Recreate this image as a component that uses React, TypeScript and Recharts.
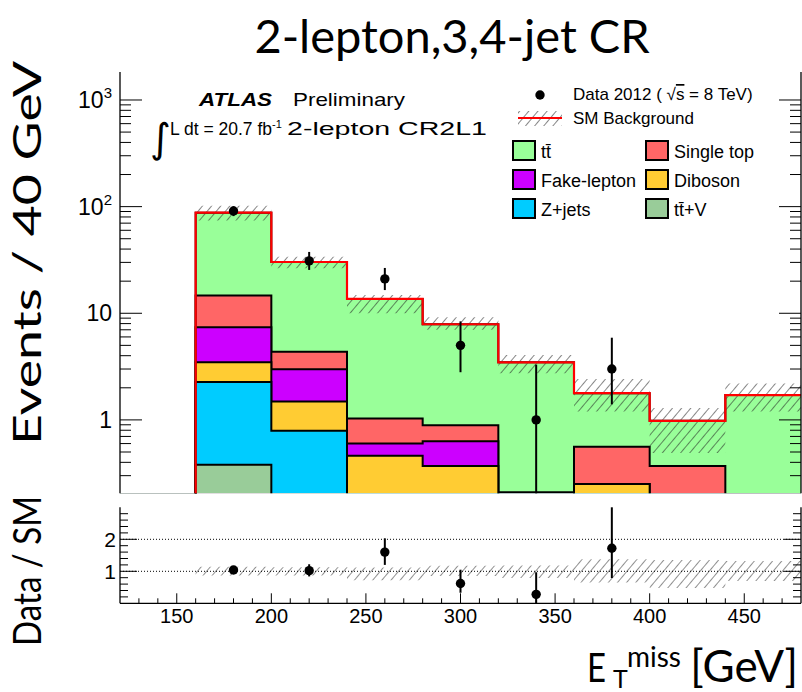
import React from 'react';
import { ComposedChart, Area, Line, Scatter, XAxis, YAxis, ErrorBar, ReferenceLine } from 'recharts';

// ---------- data ----------
const binLow = [120, 160, 200, 240, 280, 320, 360, 400, 440];
const xEnd = 480;

// per-bin component yields (bin 120-160 is empty; tiny values = below visible range)
const ttV = [0.002, 0.38, 0.01, 0.01, 0.01, 0.01, 0.01, 0.01, 0.01];
const zJets = [0.002, 1.89, 0.78, 0.05, 0.03, 0.02, 0.02, 0.01, 0.01];
const diboson = [0.002, 1.2, 0.7, 0.4, 0.33, 0.1, 0.22, 0.03, 0.01];
const fakeLepton = [0.002, 3.92, 1.5, 0.14, 0.26, 0.03, 0.001, 0.02, 0.01];
const singleTop = [0.002, 7.31, 1.37, 0.43, 0.26, 0.05, 0.31, 0.3, 0.02];
const ttbar = [0.002, 73.0, 25.9, 12.6, 7.0, 3.26, 1.22, 0.61, 1.65];

const bandLo = [null, 74, 26.4, 10.0, 7.0, 2.74, 1.2, 0.49, 1.2];
const bandHi = [null, 102, 33.9, 14.8, 9.2, 4.06, 2.42, 1.29, 2.2];
const ratioBandLo = [null, 0.87, 0.87, 0.72, 0.85, 0.79, 0.65, 0.48, 0.7];
const ratioBandHi = [null, 1.14, 1.13, 1.12, 1.17, 1.18, 1.38, 1.35, 1.32];

const dataX = [180, 220, 260, 300, 340, 380];
const dataY = [91, 31, 21, 5, 1, 3];
const dataErrLo = [9.5, 5.5, 4.5, 2.2, 0.795, 1.6];
const dataErrHi = [10.0, 6.6, 5.6, 3.4, 2.3, 2.9];
const ratioY = [1.04, 1.02, 1.6, 0.62, 0.28, 1.72];
const ratioErrLo = [0.1, 0.18, 0.4, 0.29, 0.28, 0.93];
const ratioErrHi = [0.11, 0.2, 0.43, 0.43, 0.69, 1.28];

const xMajorTicks = [150, 200, 250, 300, 350, 400, 450];
const xAllTicks = [130, 140, 150, 160, 170, 180, 190, 200, 210, 220, 230, 240, 250, 260, 270, 280, 290, 300, 310, 320, 330, 340, 350, 360, 370, 380, 390, 400, 410, 420, 430, 440, 450, 460, 470];
const yMainTicks = [0.3, 0.4, 0.5, 0.6, 0.7, 0.8, 0.9, 1, 2, 3, 4, 5, 6, 7, 8, 9, 10, 20, 30, 40, 50, 60, 70, 80, 90, 100, 200, 300, 400, 500, 600, 700, 800, 900, 1000];
const yMainMajor = [1, 10, 100, 1000];
const yRatioTicks = [0.2, 0.4, 0.6, 0.8, 1, 1.2, 1.4, 1.6, 1.8, 2, 2.2, 2.4, 2.6, 2.8];
const yRatioMajor = [1, 2];

const COLORS = {
  ttbar: '#99ff99',
  singleTop: '#ff6666',
  fake: '#cc00ff',
  diboson: '#ffcc33',
  zjets: '#00ccff',
  ttV: '#99cc99',
};

const ROOT_FONT = "'Liberation Sans', Arial, sans-serif";
const PPT_FONT = "Lato, 'Open Sans', sans-serif";

// ---------- derived tables ----------
const rows = [...binLow, xEnd].map((x, i) => {
  const b = Math.min(i, binLow.length - 1);
  const c1 = ttV[b];
  const c2 = c1 + zJets[b];
  const c3 = c2 + diboson[b];
  const c4 = c3 + fakeLepton[b];
  const c5 = c4 + singleTop[b];
  const c6 = c5 + ttbar[b];
  return {
    x,
    cTtV: c1,
    cZ: c2,
    cDib: c3,
    cFake: c4,
    cSt: c5,
    total: c6,
    band: bandLo[b] == null ? null : [bandLo[b], bandHi[b]],
    rband: ratioBandLo[b] == null ? null : [ratioBandLo[b], ratioBandHi[b]],
  };
});

const dataPts = dataX.map((x, i) => ({ x, y: dataY[i], err: [dataErrLo[i], dataErrHi[i]] }));
const ratioPts = dataX.map((x, i) => ({ x, y: ratioY[i], err: [ratioErrLo[i], ratioErrHi[i]] }));

// ---------- ticks ----------
const near = (a: number, list: number[]) => list.some((v) => Math.abs(v - a) < 1e-6);

const xTick = (dir: number, majorLen: number, minorLen: number, withLabel: boolean) => (p: any) => {
  const v = p.payload.value;
  const major = near(v, xMajorTicks);
  return (
    <g>
      <line x1={p.x} x2={p.x} y1={p.y} y2={p.y + dir * (major ? majorLen : minorLen)} stroke="#000" strokeWidth={1} />
      {withLabel && major ? (
        <text x={p.x} y={p.y + 20} textAnchor="middle" fontFamily={ROOT_FONT} fontSize={20} fill="#000">
          {v}
        </text>
      ) : null}
    </g>
  );
};

const mainYLabel = (v: number) => {
  if (Math.abs(v - 1000) < 1e-6)
    return (
      <>
        10<tspan dy={-10} fontSize={15}>3</tspan>
      </>
    );
  if (Math.abs(v - 100) < 1e-6)
    return (
      <>
        10<tspan dy={-10} fontSize={15}>2</tspan>
      </>
    );
  return <>{String(v)}</>;
};

const yTick = (
  dir: number,
  majors: number[],
  majorLen: number,
  minorLen: number,
  label: null | 'main' | 'ratio'
) => (p: any) => {
  const v = p.payload.value;
  const major = near(v, majors);
  return (
    <g>
      <line x1={p.x} x2={p.x + dir * (major ? majorLen : minorLen)} y1={p.y} y2={p.y} stroke="#000" strokeWidth={1} />
      {label === 'main' && major ? (
        <text x={p.x - 8} y={p.y + 8} textAnchor="end" fontFamily={ROOT_FONT} fontSize={23} fill="#000">
          {mainYLabel(v)}
        </text>
      ) : null}
      {label === 'ratio' && major ? (
        <text x={p.x - 4} y={p.y + 8} textAnchor="end" fontFamily={ROOT_FONT} fontSize={21} fill="#000">
          {String(v)}
        </text>
      ) : null}
    </g>
  );
};

const dotShape = (p: any) => <circle cx={p.cx} cy={p.cy} r={4.7} fill="#000" />;

const MAIN_DOMAIN: [number, number] = [0.205, 1830];

function MainPanel() {
  return (
    <ComposedChart width={802} height={500} data={rows} margin={{ top: 72, right: 0, bottom: 6.7, left: 0 }}>
      <Area type="stepAfter" dataKey="total" fill={COLORS.ttbar} fillOpacity={1} stroke="#000" strokeWidth={2} isAnimationActive={false} dot={false} activeDot={false} />
      <Area type="stepAfter" dataKey="cSt" fill={COLORS.singleTop} fillOpacity={1} stroke="#000" strokeWidth={2} isAnimationActive={false} dot={false} activeDot={false} />
      <Area type="stepAfter" dataKey="cFake" fill={COLORS.fake} fillOpacity={1} stroke="#000" strokeWidth={2} isAnimationActive={false} dot={false} activeDot={false} />
      <Area type="stepAfter" dataKey="cDib" fill={COLORS.diboson} fillOpacity={1} stroke="#000" strokeWidth={2} isAnimationActive={false} dot={false} activeDot={false} />
      <Area type="stepAfter" dataKey="cZ" fill={COLORS.zjets} fillOpacity={1} stroke="#000" strokeWidth={2} isAnimationActive={false} dot={false} activeDot={false} />
      <Area type="stepAfter" dataKey="cTtV" fill={COLORS.ttV} fillOpacity={1} stroke="#000" strokeWidth={2} isAnimationActive={false} dot={false} activeDot={false} />
      <Area type="stepAfter" dataKey="band" fill="url(#hatchMain)" fillOpacity={1} stroke="none" isAnimationActive={false} dot={false} activeDot={false} />
      <Line type="stepAfter" dataKey="total" stroke="#ff0000" strokeWidth={2.2} dot={false} activeDot={false} isAnimationActive={false} />
      <Scatter data={dataPts} dataKey="y" fill="#000" shape={dotShape} isAnimationActive={false}>
        <ErrorBar dataKey="err" direction="y" width={0} stroke="#000" strokeWidth={2} />
      </Scatter>
      <XAxis
        dataKey="x"
        type="number"
        domain={[120, 480]}
        allowDataOverflow
        ticks={xAllTicks}
        interval={0}
        height={0}
        tickSize={0}
        tickMargin={0}
        axisLine={{ stroke: '#000', strokeWidth: 1.3 }}
        tickLine={false}
        tick={xTick(-1, 11, 6, false)}
      />
      <XAxis
        xAxisId="top"
        orientation="top"
        dataKey="x"
        type="number"
        domain={[120, 480]}
        allowDataOverflow
        ticks={xAllTicks}
        interval={0}
        height={0}
        tickSize={0}
        tickMargin={0}
        axisLine={{ stroke: '#000', strokeWidth: 1.3 }}
        tickLine={false}
        tick={xTick(1, 11, 6, false)}
      />
      <YAxis
        scale="log"
        type="number"
        domain={MAIN_DOMAIN}
        allowDataOverflow
        ticks={yMainTicks}
        interval={0}
        width={120}
        tickSize={0}
        tickMargin={0}
        axisLine={{ stroke: '#000', strokeWidth: 1.3 }}
        tickLine={false}
        tick={yTick(1, yMainMajor, 22, 11, 'main')}
      />
      <YAxis
        yAxisId="right"
        orientation="right"
        scale="log"
        type="number"
        domain={MAIN_DOMAIN}
        allowDataOverflow
        ticks={yMainTicks}
        interval={0}
        width={1}
        tickSize={0}
        tickMargin={0}
        axisLine={{ stroke: '#000', strokeWidth: 1.3 }}
        tickLine={false}
        tick={yTick(-1, yMainMajor, 22, 11, null)}
      />
    </ComposedChart>
  );
}

function RatioPanel() {
  return (
    <ComposedChart width={802} height={150} data={rows} margin={{ top: 17.3, right: 0, bottom: 0, left: 0 }}>
      <ReferenceLine y={1} stroke="#000" strokeWidth={1} strokeDasharray="1 2" />
      <ReferenceLine y={2} stroke="#000" strokeWidth={1} strokeDasharray="1 2" />
      <Area type="stepAfter" dataKey="rband" fill="url(#hatchRatio)" fillOpacity={1} stroke="none" isAnimationActive={false} dot={false} activeDot={false} />
      <Scatter data={ratioPts} dataKey="y" fill="#000" shape={dotShape} isAnimationActive={false}>
        <ErrorBar dataKey="err" direction="y" width={0} stroke="#000" strokeWidth={2} />
      </Scatter>
      <XAxis
        dataKey="x"
        type="number"
        domain={[120, 480]}
        allowDataOverflow
        ticks={xAllTicks}
        interval={0}
        height={36.7}
        tickSize={0}
        tickMargin={0}
        axisLine={{ stroke: '#000', strokeWidth: 1.3 }}
        tickLine={false}
        tick={xTick(-1, 10, 5, true)}
      />
      <XAxis
        xAxisId="top"
        orientation="top"
        dataKey="x"
        type="number"
        domain={[120, 480]}
        allowDataOverflow
        ticks={xAllTicks}
        interval={0}
        height={0}
        tickSize={0}
        tickMargin={0}
        axisLine={{ stroke: '#000', strokeWidth: 1.3 }}
        tickLine={false}
        tick={xTick(1, 6, 4, false)}
      />
      <YAxis
        type="number"
        domain={[0, 3]}
        allowDataOverflow
        ticks={yRatioTicks}
        interval={0}
        width={120}
        tickSize={0}
        tickMargin={0}
        axisLine={{ stroke: '#000', strokeWidth: 1.3 }}
        tickLine={false}
        tick={yTick(1, yRatioMajor, 17, 8, 'ratio')}
      />
      <YAxis
        yAxisId="right"
        orientation="right"
        type="number"
        domain={[0, 3]}
        allowDataOverflow
        ticks={yRatioTicks}
        interval={0}
        width={1}
        tickSize={0}
        tickMargin={0}
        axisLine={{ stroke: '#000', strokeWidth: 1.3 }}
        tickLine={false}
        tick={yTick(-1, yRatioMajor, 17, 8, null)}
      />
    </ComposedChart>
  );
}

function Overlay() {
  const legendBox = (x: number, y: number, color: string) => (
    <rect x={x} y={y} width={22} height={19} fill={color} stroke="#000" strokeWidth={2} />
  );
  return (
    <svg width={802} height={692} style={{ position: 'absolute', left: 0, top: 0, pointerEvents: 'none' }}>
      <defs>
        <pattern id="hatchMain" patternUnits="userSpaceOnUse" width={7} height={7} patternTransform="rotate(40)">
          <line x1={0} y1={0} x2={0} y2={7} stroke="#222" strokeWidth={1.1} />
        </pattern>
        <pattern id="hatchRatio" patternUnits="userSpaceOnUse" width={7} height={7} patternTransform="rotate(40)">
          <line x1={0} y1={0} x2={0} y2={7} stroke="#333" strokeWidth={1.1} />
        </pattern>
      </defs>

      {/* title */}
      <text x={452} y={53} textAnchor="middle" fontFamily={PPT_FONT} fontSize={47} fill="#000">
        2-lepton,3,4-jet CR
      </text>

      {/* axis titles */}
      <text transform="translate(41,253) rotate(-90)" textAnchor="middle" fontFamily={PPT_FONT} fontSize={39} textLength={384} lengthAdjust="spacingAndGlyphs" fill="#000">
        Events / 40 GeV
      </text>
      <text transform="translate(41,571) rotate(-90)" textAnchor="middle" fontFamily={PPT_FONT} fontSize={38} textLength={150} lengthAdjust="spacingAndGlyphs" fill="#000">
        Data / SM
      </text>
      <text x={587} y={682} fontFamily={PPT_FONT} fontSize={40} textLength={19} lengthAdjust="spacingAndGlyphs" fill="#000">E</text>
      <text x={613} y={688} fontFamily={PPT_FONT} fontSize={25} fill="#000">T</text>
      <text x={627} y={667} fontFamily={PPT_FONT} fontSize={28} fill="#000">miss</text>
      <text x={798} y={682} textAnchor="end" fontFamily={PPT_FONT} fontSize={44} fill="#000">[GeV]</text>

      {/* ATLAS label */}
      <text x={199} y={106} fontFamily={ROOT_FONT} fontSize={19} fontWeight="bold" fontStyle="italic" textLength={73} lengthAdjust="spacingAndGlyphs" fill="#000">ATLAS</text>
      <text x={293} y={106} fontFamily={ROOT_FONT} fontSize={19} textLength={112} lengthAdjust="spacingAndGlyphs" fill="#000">Preliminary</text>
      <text x={150} y={152} fontFamily="'DejaVu Sans', sans-serif" fontSize={40} fill="#000">∫</text>
      <text x={170} y={135} fontFamily={ROOT_FONT} fontSize={17.5} fill="#000">
        L dt = 20.7 fb<tspan dy={-7} fontSize={11}>-1</tspan>
      </text>
      <text x={287} y={135} fontFamily={ROOT_FONT} fontSize={18.5} textLength={200} lengthAdjust="spacingAndGlyphs" fill="#000">2-lepton CR2L1</text>

      {/* legend */}
      <circle cx={540} cy={95} r={4.7} fill="#000" />
      <text x={573} y={100} fontFamily={ROOT_FONT} fontSize={17} fill="#000">
        Data 2012 ( √<tspan style={{ textDecoration: 'overline' }}>s</tspan> = 8 TeV)
      </text>
      <rect x={518} y={111} width={44} height={15} fill="url(#hatchMain)" />
      <line x1={518} x2={562} y1={118} y2={118} stroke="#ff0000" strokeWidth={2} />
      <text x={573} y={124} fontFamily={ROOT_FONT} fontSize={17} fill="#000">SM Background</text>

      {legendBox(513, 141, COLORS.ttbar)}
      <text x={541} y={158} fontFamily={ROOT_FONT} fontSize={18} fill="#000">t{'t\u0304'}</text>
      {legendBox(513, 170, COLORS.fake)}
      <text x={541} y={187} fontFamily={ROOT_FONT} fontSize={18} fill="#000">Fake-lepton</text>
      {legendBox(513, 199, COLORS.zjets)}
      <text x={541} y={216} fontFamily={ROOT_FONT} fontSize={18} fill="#000">Z+jets</text>

      {legendBox(646, 141, COLORS.singleTop)}
      <text x={674} y={158} fontFamily={ROOT_FONT} fontSize={18} fill="#000">Single top</text>
      {legendBox(646, 170, COLORS.diboson)}
      <text x={674} y={187} fontFamily={ROOT_FONT} fontSize={18} fill="#000">Diboson</text>
      {legendBox(646, 199, COLORS.ttV)}
      <text x={674} y={216} fontFamily={ROOT_FONT} fontSize={18} fill="#000">t{'t\u0304'}+V</text>
    </svg>
  );
}

export default function App() {
  return (
    <div style={{ position: 'absolute', left: 0, top: 0, width: 802, height: 692, background: '#fff', overflow: 'hidden' }}>
      <div style={{ position: 'absolute', left: 0, top: 0 }}>
        <MainPanel />
      </div>
      <div style={{ position: 'absolute', left: 0, top: 490 }}>
        <RatioPanel />
      </div>
      <Overlay />
    </div>
  );
}
